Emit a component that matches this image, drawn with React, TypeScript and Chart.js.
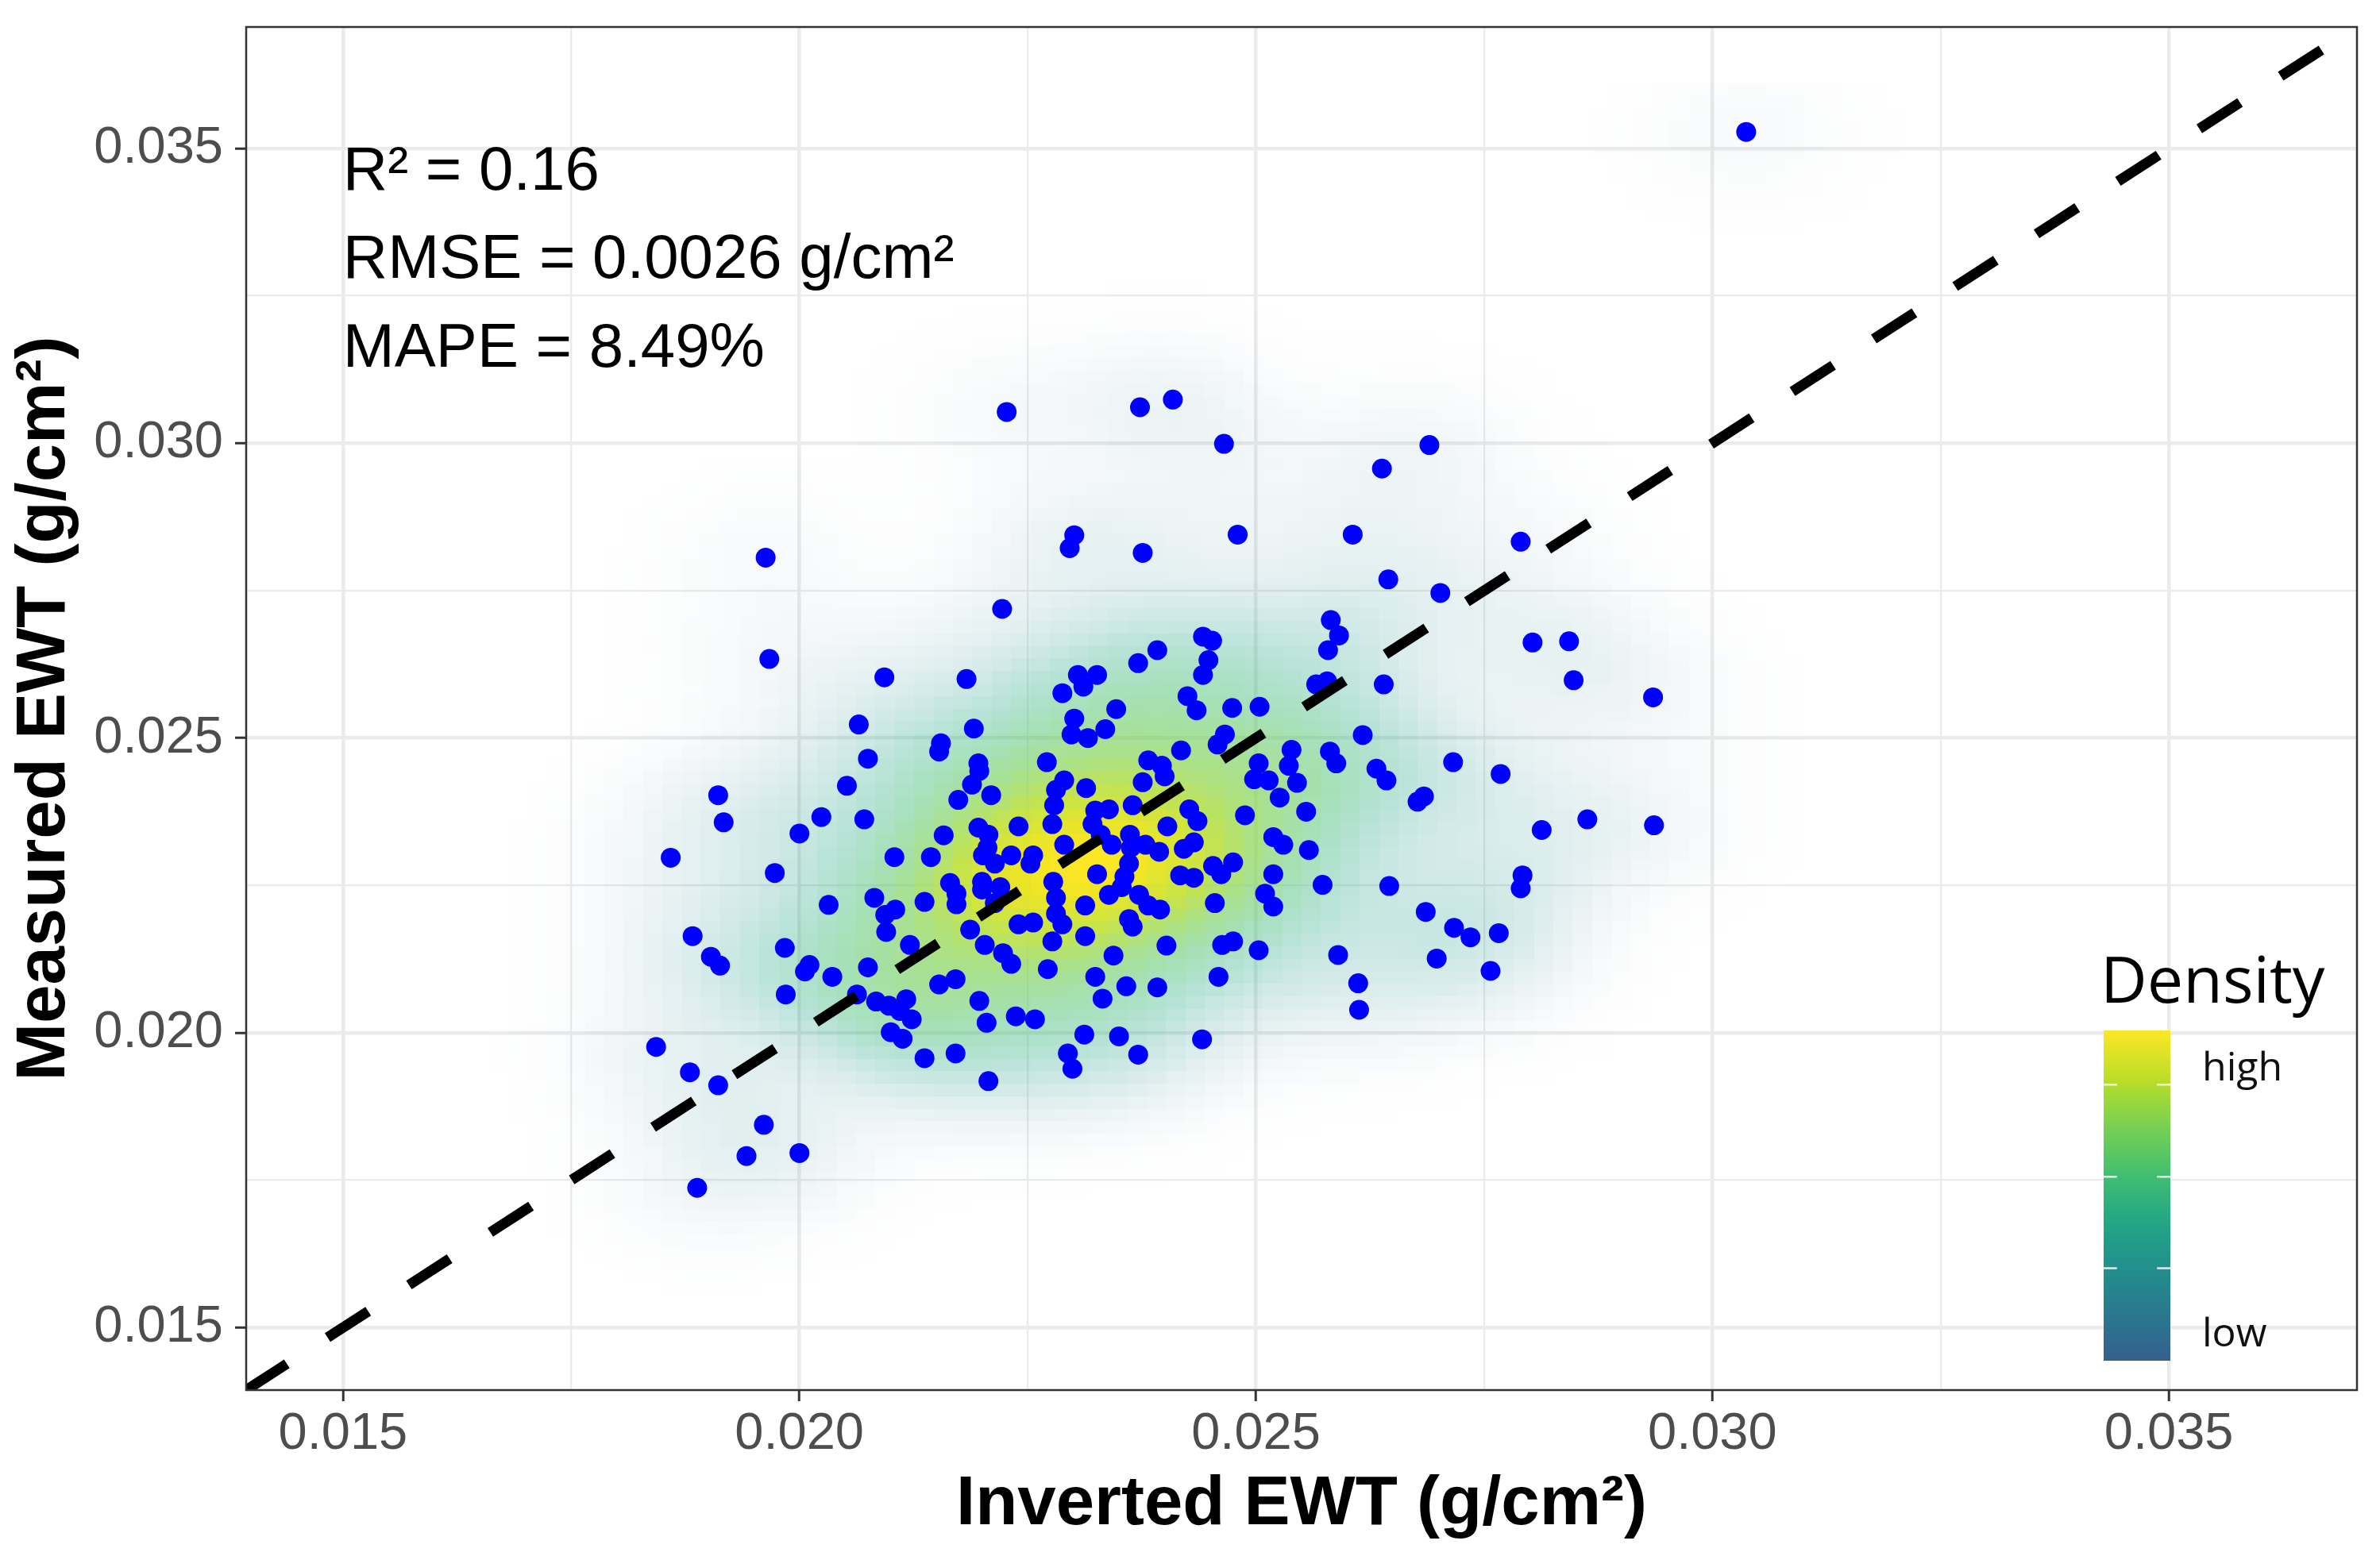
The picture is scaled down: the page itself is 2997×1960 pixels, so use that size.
import React, { useEffect, useRef } from 'react';
import { Chart, registerables } from 'chart.js';

Chart.register(...registerables);

// ---------------- data ----------------
const invertedEWT = [
  0.03037, 0.01963, 0.01967, 0.02227, 0.02373, 0.02409, 0.02465, 0.02301, 0.02296, 0.02376,
  0.02480, 0.02222, 0.02582, 0.02591, 0.02579, 0.02392, 0.02442, 0.02452, 0.02448, 0.02371,
  0.02690, 0.02638, 0.02606, 0.02645, 0.02702, 0.02790, 0.02803, 0.02843, 0.02093, 0.02183,
  0.02065, 0.02191, 0.02155, 0.02153, 0.02196, 0.02197, 0.02189, 0.02174, 0.02210, 0.02075,
  0.02052, 0.01911, 0.01917, 0.02024, 0.02000, 0.02071, 0.01859, 0.01973, 0.02158, 0.02196,
  0.02207, 0.02104, 0.02144, 0.02201, 0.02032, 0.02082, 0.02105, 0.02094, 0.02137, 0.02165,
  0.02172, 0.02172, 0.02200, 0.02200, 0.02187, 0.02095, 0.01883, 0.01903, 0.01913, 0.01984,
  0.02011, 0.02006, 0.02036, 0.01985, 0.02075, 0.02121, 0.02063, 0.02084, 0.02098, 0.02117,
  0.02110, 0.02123, 0.02100, 0.02113, 0.02137, 0.02171, 0.02153, 0.02171, 0.02197, 0.02205,
  0.02207, 0.02203, 0.01843, 0.01880, 0.01911, 0.01961, 0.01942, 0.02000, 0.01888,
  0.02442, 0.02578, 0.02566, 0.02305, 0.02326, 0.02311, 0.02288, 0.02347, 0.02301, 0.02298,
  0.02316, 0.02335, 0.02425, 0.02435, 0.02474, 0.02504, 0.02466, 0.02458, 0.02418, 0.02382,
  0.02397, 0.02400, 0.02376, 0.02539, 0.02536, 0.02545, 0.02503, 0.02498, 0.02514, 0.02581,
  0.02588, 0.02526, 0.02555, 0.02488, 0.02271, 0.02290, 0.02281, 0.02279, 0.02277, 0.02314,
  0.02240, 0.02206, 0.02214, 0.02220, 0.02232, 0.02256, 0.02253, 0.02290, 0.02324, 0.02339,
  0.02321, 0.02330, 0.02342, 0.02365, 0.02362, 0.02363, 0.02361, 0.02356, 0.02353, 0.02403,
  0.02379, 0.02394, 0.02427, 0.02436, 0.02432, 0.02421, 0.02417, 0.02432, 0.02453, 0.02462,
  0.02475, 0.02455, 0.02519, 0.02530, 0.02558, 0.02519, 0.02510, 0.02519, 0.02573, 0.02326,
  0.02278, 0.02281, 0.02281, 0.02288, 0.02339, 0.02313, 0.02372, 0.02382, 0.02395, 0.02361,
  0.02365, 0.02240, 0.02256, 0.02214, 0.02313, 0.02277, 0.02402, 0.02463, 0.02475, 0.02223,
  0.02232, 0.02344, 0.02503, 0.02590, 0.02272, 0.02324, 0.02358, 0.02392, 0.02332, 0.02459,
  0.02237, 0.02258, 0.02312, 0.02350, 0.02294, 0.02299, 0.02371, 0.02441, 0.02640, 0.02848,
  0.02935, 0.02617, 0.02632, 0.02643, 0.02684, 0.02677, 0.02716, 0.02768, 0.02813, 0.02863,
  0.02936, 0.02792, 0.02790, 0.02646, 0.02686, 0.02717, 0.02735, 0.02766, 0.02612, 0.02613,
  0.02698, 0.02757,
];

const measuredEWT = [
  0.03528, 0.02806, 0.02634, 0.03053, 0.03061, 0.03074, 0.02999, 0.02844, 0.02822, 0.02814,
  0.02845, 0.02719, 0.02700, 0.02674, 0.02649, 0.02649, 0.02672, 0.02665, 0.02632, 0.02627,
  0.02997, 0.02957, 0.02845, 0.02769, 0.02746, 0.02833, 0.02662, 0.02664, 0.02603, 0.02600,
  0.02523, 0.02516, 0.02491, 0.02477, 0.02457, 0.02444, 0.02421, 0.02395, 0.02403, 0.02465,
  0.02419, 0.02403, 0.02357, 0.02366, 0.02338, 0.02362, 0.02297, 0.02271, 0.02335, 0.02348,
  0.02336, 0.02298, 0.02298, 0.02301, 0.02217, 0.02229, 0.02209, 0.02200, 0.02222, 0.02254,
  0.02236, 0.02218, 0.02256, 0.02243, 0.02175, 0.02171, 0.02164, 0.02129, 0.02114, 0.02144,
  0.02115, 0.02104, 0.02095, 0.02065, 0.02111, 0.02149, 0.02065, 0.02053, 0.02046, 0.02057,
  0.02037, 0.02023, 0.02001, 0.01990, 0.01957, 0.01965, 0.02082, 0.02091, 0.02054, 0.02017,
  0.01918, 0.02149, 0.01976, 0.01933, 0.01911, 0.01844, 0.01791, 0.01796, 0.01737,
  0.02607, 0.02596, 0.02591, 0.02607, 0.02607, 0.02587, 0.02576, 0.02549, 0.02533, 0.02506,
  0.02500, 0.02515, 0.02571, 0.02547, 0.02551, 0.02553, 0.02506, 0.02489, 0.02479, 0.02462,
  0.02453, 0.02435, 0.02425, 0.02480, 0.02453, 0.02424, 0.02457, 0.02430, 0.02428, 0.02477,
  0.02457, 0.02399, 0.02375, 0.02369, 0.02459, 0.02428, 0.02412, 0.02386, 0.02354, 0.02415,
  0.02350, 0.02314, 0.02287, 0.02247, 0.02301, 0.02301, 0.02287, 0.02319, 0.02377, 0.02379,
  0.02354, 0.02336, 0.02319, 0.02386, 0.02336, 0.02314, 0.02287, 0.02265, 0.02247, 0.02350,
  0.02319, 0.02307, 0.02379, 0.02359, 0.02323, 0.02312, 0.02267, 0.02263, 0.02283, 0.02269,
  0.02289, 0.02220, 0.02332, 0.02319, 0.02310, 0.02269, 0.02236, 0.02214, 0.02251, 0.02269,
  0.02256, 0.02229, 0.02202, 0.02184, 0.02234, 0.02216, 0.02234, 0.02216, 0.02209, 0.02193,
  0.02180, 0.02184, 0.02187, 0.02220, 0.02164, 0.02155, 0.02148, 0.02149, 0.02155, 0.02135,
  0.02117, 0.02131, 0.02140, 0.02132, 0.02108, 0.02095, 0.02079, 0.02077, 0.02058, 0.02095,
  0.02028, 0.02023, 0.01997, 0.01994, 0.01965, 0.01939, 0.01963, 0.01989, 0.02591, 0.02598,
  0.02569, 0.02505, 0.02448, 0.02428, 0.02401, 0.02392, 0.02459, 0.02439, 0.02344, 0.02362,
  0.02352, 0.02267, 0.02245, 0.02249, 0.02205, 0.02178, 0.02162, 0.02169, 0.02084, 0.02039,
  0.02126, 0.02105,
];

const axisLimits = [0.01394, 0.03706];
const densityLimits = [0.015, 0.036];
const densityGridN = 100;
const tickStep = 0.0025;
const majorStep = 0.005;

const xTitle = 'Inverted EWT (g/cm²)';
const yTitle = 'Measured EWT (g/cm²)';

const statLabels = ['R² = 0.16', 'RMSE = 0.0026 g/cm²', 'MAPE = 8.49%'];
const statX = 0.015;
const statBaselines = [0.0343, 0.0328, 0.0313];

const legendTitle = 'Density';
const legendHigh = 'high';
const legendLow = 'low';

// ---------------- helpers ----------------
const FONT = "'Liberation Sans', Arial, Helvetica, sans-serif";
const LEGEND_FONT = "'Open Sans', 'Noto Sans', sans-serif";

const VIRIDIS = [
  [68, 1, 84], [72, 36, 117], [65, 68, 135], [53, 95, 141], [42, 120, 142],
  [33, 145, 140], [34, 168, 132], [68, 191, 112], [122, 209, 81], [189, 223, 38], [253, 231, 37],
];
function viridis(t: number): number[] {
  const c = Math.max(0, Math.min(1, t));
  const p = c * 10;
  const i = Math.min(9, Math.floor(p));
  const f = p - i;
  return VIRIDIS[i].map((v, k) => Math.round(v + (VIRIDIS[i + 1][k] - v) * f));
}
const fillColor = (t: number) => viridis(0.3 + 0.7 * t);

function quantile7(sorted: number[], p: number) {
  const h = (sorted.length - 1) * p;
  const lo = Math.floor(h);
  const hi = Math.min(lo + 1, sorted.length - 1);
  return sorted[lo] + (h - lo) * (sorted[hi] - sorted[lo]);
}
function bandwidthNrd(v: number[]) {
  const n = v.length;
  const s = [...v].sort((a, b) => a - b);
  const mean = v.reduce((a, b) => a + b, 0) / n;
  const sd = Math.sqrt(v.reduce((a, b) => a + (b - mean) * (b - mean), 0) / (n - 1));
  const iqr = quantile7(s, 0.75) - quantile7(s, 0.25);
  return 4 * 1.06 * Math.min(sd, iqr / 1.34) * Math.pow(n, -0.2);
}
function kde2d(xs: number[], ys: number[], n: number, lims: number[]) {
  const hx = bandwidthNrd(xs) / 4;
  const hy = bandwidthNrd(ys) / 4;
  const gx: number[] = [];
  const gy: number[] = [];
  for (let i = 0; i < n; i++) {
    gx.push(lims[0] + (i * (lims[1] - lims[0])) / (n - 1));
    gy.push(lims[0] + (i * (lims[1] - lims[0])) / (n - 1));
  }
  const N = xs.length;
  const ax = gx.map((g) => xs.map((x) => Math.exp(-0.5 * ((g - x) / hx) ** 2) / Math.sqrt(2 * Math.PI)));
  const ay = gy.map((g) => ys.map((y) => Math.exp(-0.5 * ((g - y) / hy) ** 2) / Math.sqrt(2 * Math.PI)));
  const z: number[][] = [];
  let zmax = 0;
  for (let i = 0; i < n; i++) {
    const row: number[] = [];
    for (let j = 0; j < n; j++) {
      let s = 0;
      const a = ax[i];
      const b = ay[j];
      for (let k = 0; k < N; k++) s += a[k] * b[k];
      const v = s / (N * hx * hy);
      row.push(v);
      if (v > zmax) zmax = v;
    }
    z.push(row);
  }
  return { gx, gy, z, zmax };
}

const density = kde2d(invertedEWT, measuredEWT, densityGridN, densityLimits);

const isMajor = (v: number) => Math.abs(v / majorStep - Math.round(v / majorStep)) < 1e-6;

// ---------------- plugins ----------------
const densityPlugin = {
  id: 'densityRaster',
  beforeDatasetsDraw(chart: any) {
    const { ctx, chartArea, scales } = chart;
    const xs = scales.x;
    const ys = scales.y;
    const { gx, gy, z, zmax } = density;
    const dx = gx[1] - gx[0];
    const dy = gy[1] - gy[0];
    ctx.save();
    ctx.beginPath();
    ctx.rect(chartArea.left, chartArea.top, chartArea.right - chartArea.left, chartArea.bottom - chartArea.top);
    ctx.clip();
    for (let i = 0; i < gx.length; i++) {
      const x0 = Math.round(xs.getPixelForValue(gx[i] - dx / 2));
      const x1 = Math.round(xs.getPixelForValue(gx[i] + dx / 2));
      for (let j = 0; j < gy.length; j++) {
        const t = z[i][j] / zmax;
        if (t < 0.003) continue;
        const y0 = Math.round(ys.getPixelForValue(gy[j] + dy / 2));
        const y1 = Math.round(ys.getPixelForValue(gy[j] - dy / 2));
        const c = fillColor(Math.pow(t, 0.7));
        const a = Math.min(1, t * 1.05);
        ctx.fillStyle = `rgba(${c[0]},${c[1]},${c[2]},${a})`;
        ctx.fillRect(x0, y0, x1 - x0, y1 - y0);
      }
    }
    ctx.restore();
  },
};

const overlayPlugin = {
  id: 'overlay',
  afterDraw(chart: any) {
    const { ctx, chartArea, scales } = chart;
    // statistics text
    ctx.save();
    ctx.fillStyle = '#000000';
    ctx.font = `78px ${FONT}`;
    ctx.textAlign = 'left';
    ctx.textBaseline = 'alphabetic';
    statLabels.forEach((s, i) => {
      ctx.fillText(s, scales.x.getPixelForValue(statX), scales.y.getPixelForValue(statBaselines[i]));
    });

    // legend (colour bar)
    const barLeft = chartArea.right - 319;
    const barW = 84;
    const barTop = chartArea.top + 1264;
    const barBottom = chartArea.top + 1680;
    ctx.font = `81px ${LEGEND_FONT}`;
    ctx.fillText(legendTitle, barLeft - 4, chartArea.top + 1229);
    const grad = ctx.createLinearGradient(0, barBottom, 0, barTop);
    for (let s = 0; s <= 20; s++) {
      const c = fillColor(s / 20);
      grad.addColorStop(s / 20, `rgb(${c[0]},${c[1]},${c[2]})`);
    }
    ctx.fillStyle = grad;
    ctx.fillRect(barLeft, barTop, barW, barBottom - barTop);
    ctx.strokeStyle = 'rgba(255,255,255,0.85)';
    ctx.lineWidth = 2.5;
    [0.164, 0.443, 0.72].forEach((f) => {
      const yy = barTop + f * (barBottom - barTop);
      ctx.beginPath();
      ctx.moveTo(barLeft, yy);
      ctx.lineTo(barLeft + barW * 0.2, yy);
      ctx.moveTo(barLeft + barW * 0.8, yy);
      ctx.lineTo(barLeft + barW, yy);
      ctx.stroke();
    });
    ctx.fillStyle = '#111111';
    ctx.font = `50px ${LEGEND_FONT}`;
    ctx.fillText(legendHigh, barLeft + 124, chartArea.top + 1327);
    ctx.fillText(legendLow, barLeft + 124, chartArea.top + 1662);

    // panel border
    ctx.strokeStyle = '#333333';
    ctx.lineWidth = 2.5;
    ctx.strokeRect(chartArea.left, chartArea.top, chartArea.right - chartArea.left, chartArea.bottom - chartArea.top);
    ctx.restore();
  },
};

// ---------------- component ----------------
export default function App() {
  const ref = useRef<HTMLCanvasElement>(null);

  useEffect(() => {
    const canvas = ref.current;
    if (!canvas) return;
    const points = invertedEWT.map((x, i) => ({ x, y: measuredEWT[i] }));
    const gridOpts = {
      color: '#EBEBEB',
      lineWidth: (c: any) => (c.tick && isMajor(c.tick.value) ? 4.5 : 2.3),
      tickColor: (c: any) => (c.tick && isMajor(c.tick.value) ? '#333333' : 'rgba(0,0,0,0)'),
      tickWidth: 3,
      tickLength: 14,
      drawTicks: true,
      drawOnChartArea: true,
    };
    const tickOpts = (padding: number) => ({
      stepSize: tickStep,
      includeBounds: false,
      autoSkip: false,
      maxRotation: 0,
      minRotation: 0,
      color: '#4D4D4D',
      padding,
      font: { family: FONT, size: 65 },
      callback: (v: any) => (isMajor(Number(v)) ? Number(v).toFixed(3) : ''),
    });
    const chart = new Chart(canvas, {
      type: 'scatter',
      data: {
        datasets: [
          {
            type: 'line',
            data: [
              { x: axisLimits[0], y: axisLimits[0] },
              { x: axisLimits[1], y: axisLimits[1] },
            ],
            borderColor: '#000000',
            borderWidth: 13,
            borderDash: [61, 61],
            borderCapStyle: 'butt',
            pointRadius: 0,
            fill: false,
            tension: 0,
            clip: 0,
          } as any,
          {
            type: 'scatter',
            data: points,
            backgroundColor: '#0000FF',
            borderWidth: 0,
            pointRadius: 12.5,
            pointHoverRadius: 12.5,
          } as any,
        ],
      },
      options: {
        responsive: false,
        animation: false,
        devicePixelRatio: 1,
        events: [],
        layout: { padding: { top: 34, right: 29, left: 0, bottom: 0 } },
        plugins: { legend: { display: false }, tooltip: { enabled: false } },
        scales: {
          x: {
            type: 'linear',
            min: axisLimits[0],
            max: axisLimits[1],
            afterFit: (s: any) => {
              s.height = 209;
              s.paddingLeft = 0;
              s.paddingRight = 0;
              s.paddingTop = 0;
              s.paddingBottom = 0;
            },
            border: { display: false },
            grid: gridOpts as any,
            ticks: tickOpts(3) as any,
            title: {
              display: true,
              text: xTitle,
              color: '#000000',
              font: { family: FONT, size: 87, weight: 'bold', lineHeight: 1 },
              padding: { top: 0, bottom: 20 },
            },
          },
          y: {
            type: 'linear',
            min: axisLimits[0],
            max: axisLimits[1],
            afterFit: (s: any) => {
              s.width = 310;
              s.paddingTop = 0;
              s.paddingBottom = 0;
              s.paddingLeft = 0;
              s.paddingRight = 0;
            },
            border: { display: false },
            grid: gridOpts as any,
            ticks: tickOpts(15) as any,
            title: {
              display: true,
              text: yTitle,
              color: '#000000',
              font: { family: FONT, size: 87, weight: 'bold', lineHeight: 1 },
              padding: { top: 14, bottom: 0 },
            },
          },
        },
      } as any,
      plugins: [densityPlugin, overlayPlugin],
    });
    return () => chart.destroy();
  }, []);

  return (
    <div style={{ position: 'absolute', left: 0, top: 0, width: 2997, height: 1960, background: '#ffffff' }}>
      <canvas ref={ref} width={2997} height={1960} style={{ display: 'block', width: 2997, height: 1960 }} />
    </div>
  );
}
